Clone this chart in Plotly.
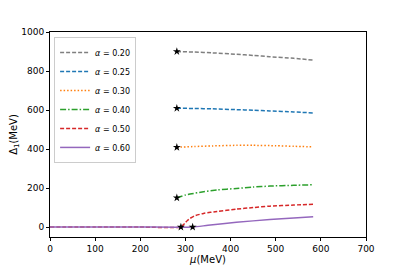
import plotly.graph_objects as go

# alpha = 0.20
mu_020 = [281, 320, 360, 413, 450, 487, 540, 583]
d_020 = [900, 897, 893, 886, 880, 873, 865, 856]
# alpha = 0.25
mu_025 = [281, 320, 360, 413, 450, 487, 540, 583]
d_025 = [609, 608, 606, 602, 599, 595, 590, 585]
# alpha = 0.30
mu_030 = [281, 320, 360, 413, 450, 500, 540, 583]
d_030 = [409, 413, 416, 419, 419, 417, 414, 411]
# alpha = 0.40
mu_040 = [281, 290, 300, 310, 340, 370, 413, 450, 487, 540, 583]
d_040 = [150, 157, 164, 169, 181, 190, 198, 205, 210, 214, 217]
# alpha = 0.50
mu_050 = [0, 100, 200, 290, 295, 300, 305, 310, 320, 340, 370, 413, 450, 487, 540, 583]
d_050 = [0, 0, 0, 0, 11, 23, 35, 44, 57, 70, 80, 92, 100, 107, 113, 117]
# alpha = 0.60
mu_060 = [0, 100, 200, 316, 350, 413, 487, 540, 583]
d_060 = [0, 0, 0, 0, 9, 24, 39, 47, 53]

# onset points (stars)
star_mu = [281, 281, 281, 281, 290, 316]
star_d = [900, 609, 409, 150, 0, 0]

series = [
    ("0.20", mu_020, d_020, "#7f7f7f", "4px,2px"),
    ("0.25", mu_025, d_025, "#1f77b4", "4px,2px"),
    ("0.30", mu_030, d_030, "#ff7f0e", "1.5px,2px"),
    ("0.40", mu_040, d_040, "#2ca02c", "6px,2px,1.5px,2px"),
    ("0.50", mu_050, d_050, "#d62728", "4px,2px"),
    ("0.60", mu_060, d_060, "#9467bd", "solid"),
]

fig = go.Figure()
for name, x, y, c, dash in series:
    fig.add_trace(go.Scatter(
        x=x, y=y, mode="lines", name="<i>α</i> = " + name,
        line=dict(color=c, dash=dash, width=1.5, shape="spline", smoothing=0.6),
    ))
fig.add_trace(go.Scatter(
    x=star_mu, y=star_d, mode="markers", showlegend=False,
    marker=dict(symbol="star", color="black", size=6),
))

axis_common = dict(
    showline=True, linecolor="black", linewidth=1, mirror=True,
    ticks="outside", ticklen=3, tickcolor="black", showgrid=False,
    zeroline=False, tickfont=dict(size=9, color="black"), automargin=False,
)
fig.update_xaxes(range=[0, 700], tickvals=[0, 100, 200, 300, 400, 500, 600, 700],
                 title=dict(text="<i>μ</i>(MeV)", font=dict(size=10, color="black"), standoff=2),
                 **axis_common)
fig.update_yaxes(range=[-51, 1000], tickvals=[0, 200, 400, 600, 800, 1000],
                 title=dict(text="Δ<sub>1</sub>(MeV)", font=dict(size=10, color="black"), standoff=1),
                 **axis_common)
fig.update_layout(
    width=399, height=263,
    margin=dict(l=42, r=41, t=24, b=34),
    plot_bgcolor="white", paper_bgcolor="white",
    font=dict(family="DejaVu Sans", color="black"),
    legend=dict(x=0.013, y=0.976, xanchor="left", yanchor="top",
                bgcolor="rgba(255,255,255,0.8)", bordercolor="#cccccc", borderwidth=1,
                font=dict(size=8), tracegroupgap=0, itemwidth=30),
)
fig.write_html("out.html")
